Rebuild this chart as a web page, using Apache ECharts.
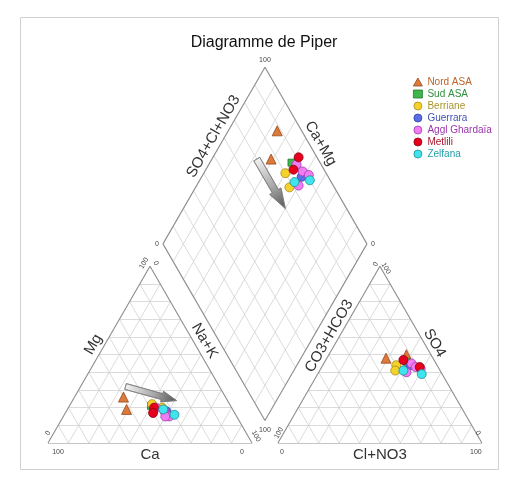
<!DOCTYPE html>
<html>
<head>
<meta charset="utf-8">
<script src="https://cdn.jsdelivr.net/npm/echarts@6/dist/echarts.min.js"></script>
<style>
  html, body { margin: 0; padding: 0; background: #fff; }
  #chart { width: 509px; height: 495px; }
</style>
</head>
<body>
<div id="chart"></div>
<script>
// Water samples, each row: [Ca, Mg, Na+K, CO3+HCO3, SO4, Cl+NO3] in meq %
const stations = ['Nord ASA', 'Sud ASA', 'Berriane', 'Guerrara', 'Aggl Ghardaïa', 'Metlili', 'Zelfana'];
const nordAsa     = [[50, 26, 24, 12, 50, 38], [52, 19, 29, 23, 48, 29]];
const sudAsa      = [[39, 21, 40, 14, 46, 40]];
const berriane    = [[38, 22, 40, 20, 44, 36], [34, 20, 46, 22, 41, 37]];
const guerrara    = [[33, 18, 49, 13, 44, 43]];
const agglGhardaia = [[37, 20, 43, 12, 45, 43], [34, 18, 48, 11, 43, 46], [33, 15, 52, 9, 42, 49], [35, 15, 50, 17, 40, 43]];
const metlili     = [[38, 20, 42, 9, 43, 48], [40, 17, 43, 15, 47, 38]];
const zelfana     = [[30, 16, 54, 10, 39, 51], [34, 19, 47, 18, 41, 41]];

// Evolution trends drawn as arrows
const trendDiamond = [[78, 70], [50, 70]];            // [Ca+Mg, SO4+Cl+NO3]
const trendCation  = [[46, 32, 22], [25, 24, 51]];    // [Ca, Mg, Na+K]

// Tick labels on the axes
const tickMin = '0';
const tickMax = '100';

// ---- Piper geometry (triangle side = 100 units) ----
const GAP = 12.7;
const R3 = Math.sqrt(3) / 2;
const XMAX = 200 + GAP;
const YMAX = (200 + GAP) * R3;
const SCALE = 2.04;

function norm3(a, b, c) { const t = a + b + c; return [a * 100 / t, b * 100 / t, c * 100 / t]; }
function cationXY(ca, mg, nak) { [ca, mg, nak] = norm3(ca, mg, nak); return [nak + mg / 2, mg * R3]; }
function anionXY(hco3, so4, cl) { [hco3, so4, cl] = norm3(hco3, so4, cl); return [100 + GAP + cl + so4 / 2, so4 * R3]; }
function diamondXY(camg, so4cl) { return [100 + GAP / 2 + (so4cl - camg) / 2, (GAP + so4cl + camg) * R3]; }

function samplePoints(rows) {
  const pts = [];
  rows.forEach(r => {
    const cat = norm3(r[0], r[1], r[2]);
    const an = norm3(r[3], r[4], r[5]);
    pts.push(cationXY(r[0], r[1], r[2]));
    pts.push(anionXY(r[3], r[4], r[5]));
    pts.push(diamondXY(cat[0] + cat[1], an[1] + an[2]));
  });
  return pts;
}

// ---- grid and outline segments ----
const gridSegs = [], frameSegs = [];
for (let k = 10; k < 100; k += 10) {
  // cation triangle
  gridSegs.push([cationXY(100 - k, k, 0), cationXY(0, k, 100 - k)]);
  gridSegs.push([cationXY(100 - k, 0, k), cationXY(0, 100 - k, k)]);
  gridSegs.push([cationXY(k, 0, 100 - k), cationXY(k, 100 - k, 0)]);
  // anion triangle
  gridSegs.push([anionXY(100 - k, k, 0), anionXY(0, k, 100 - k)]);
  gridSegs.push([anionXY(100 - k, 0, k), anionXY(0, 100 - k, k)]);
  gridSegs.push([anionXY(k, 0, 100 - k), anionXY(k, 100 - k, 0)]);
  // diamond
  gridSegs.push([diamondXY(k, 0), diamondXY(k, 100)]);
  gridSegs.push([diamondXY(0, k), diamondXY(100, k)]);
}
const Lbl = cationXY(100, 0, 0), Lbr = cationXY(0, 0, 100), Ltop = cationXY(0, 100, 0);
const Rbl = anionXY(100, 0, 0), Rbr = anionXY(0, 0, 100), Rtop = anionXY(0, 100, 0);
const Dbot = diamondXY(0, 0), Dleft = diamondXY(100, 0), Dright = diamondXY(0, 100), Dtop = diamondXY(100, 100);
[[Lbl, Lbr], [Lbr, Ltop], [Ltop, Lbl],
 [Rbl, Rbr], [Rbr, Rtop], [Rtop, Rbl],
 [Dbot, Dleft], [Dleft, Dtop], [Dtop, Dright], [Dright, Dbot]].forEach(s => frameSegs.push(s));

const arrows = [
  { from: diamondXY(trendDiamond[0][0], trendDiamond[0][1]), to: diamondXY(trendDiamond[1][0], trendDiamond[1][1]), shaft: 7, head: 13, headLen: 20 },
  { from: cationXY(...trendCation[0]), to: cationXY(...trendCation[1]), shaft: 6, head: 11, headLen: 15 }
];

const styles = [
  { symbol: 'triangle', size: 10, fill: '#dc7a3c', edge: '#98481c', text: '#b8642a' },
  { symbol: 'rect', size: 7, fill: '#3fb54c', edge: '#1f7a30', text: '#2f8f3c' },
  { symbol: 'circle', size: 9, fill: '#f4d22a', edge: '#a88c18', text: '#a89630' },
  { symbol: 'circle', size: 9, fill: '#5a6fe6', edge: '#2e3ea0', text: '#4252b4' },
  { symbol: 'circle', size: 9, fill: '#f27cf2', edge: '#a23cb2', text: '#9c34aa' },
  { symbol: 'circle', size: 9, fill: '#e6001e', edge: '#8e0012', text: '#a8142a' },
  { symbol: 'circle', size: 9, fill: '#40e4ec', edge: '#1e8e9c', text: '#24a0aa' }
];
const stationRows = [nordAsa, sudAsa, berriane, guerrara, agglGhardaia, metlili, zelfana];

const chart = echarts.init(document.getElementById('chart'), null, { renderer: 'canvas' });

const FONT = '"Liberation Sans", Arial, sans-serif';

const series = [
  {
    type: 'lines', coordinateSystem: 'cartesian2d', polyline: false, silent: true, z: 1,
    lineStyle: { color: '#d2d2d2', width: 0.8, opacity: 1 },
    data: gridSegs.map(s => ({ coords: s }))
  },
  {
    type: 'lines', coordinateSystem: 'cartesian2d', polyline: false, silent: true, z: 2,
    lineStyle: { color: '#8c8c8c', width: 1.1, opacity: 1 },
    data: frameSegs.map(s => ({ coords: s }))
  },
  {
    type: 'custom', silent: true, z: 3,
    data: arrows.map(a => [a.from[0], a.from[1], a.to[0], a.to[1], a.shaft, a.head, a.headLen]),
    encode: { x: [0, 2], y: [1, 3] },
    renderItem: function (params, api) {
      const p1 = api.coord([api.value(0), api.value(1)]);
      const p2 = api.coord([api.value(2), api.value(3)]);
      const sw = api.value(4) / 2, hw = api.value(5) / 2, hl = api.value(6);
      const dx = p2[0] - p1[0], dy = p2[1] - p1[1];
      const len = Math.sqrt(dx * dx + dy * dy);
      const ux = dx / len, uy = dy / len, nx = -uy, ny = ux;
      const bx = p2[0] - ux * hl, by = p2[1] - uy * hl;
      const pts = [
        [p1[0] + nx * sw, p1[1] + ny * sw],
        [bx + nx * sw, by + ny * sw],
        [bx + nx * hw, by + ny * hw],
        [p2[0], p2[1]],
        [bx - nx * hw, by - ny * hw],
        [bx - nx * sw, by - ny * sw],
        [p1[0] - nx * sw, p1[1] - ny * sw]
      ];
      return {
        type: 'polygon',
        shape: { points: pts },
        style: {
          fill: new echarts.graphic.LinearGradient(p1[0], p1[1], p2[0], p2[1], [
            { offset: 0, color: '#f2f2f2' },
            { offset: 0.55, color: '#a8a8a8' },
            { offset: 1, color: '#555555' }
          ], true),
          stroke: '#7a7a7a',
          lineWidth: 0.7
        }
      };
    }
  }
];

stations.forEach((name, i) => {
  const st = styles[i];
  series.push({
    name: name,
    type: 'scatter',
    z: 10 + i,
    symbol: st.symbol,
    symbolSize: st.size,
    itemStyle: { color: st.fill, borderColor: st.edge, borderWidth: 0.8, opacity: 1 },
    emphasis: { disabled: true },
    data: samplePoints(stationRows[i])
  });
});

chart.setOption({
  animation: false,
  backgroundColor: '#ffffff',
  grid: { left: 48, bottom: 495 - 443, width: XMAX * SCALE, height: YMAX * SCALE, containLabel: false },
  xAxis: { type: 'value', min: 0, max: XMAX, show: false },
  yAxis: { type: 'value', min: 0, max: YMAX, show: false },
  legend: {
    orient: 'vertical', left: 408, top: 71,
    itemWidth: 9, itemHeight: 8, itemGap: 0,
    selectedMode: false,
    textStyle: { fontSize: 10, lineHeight: 12, fontFamily: FONT, padding: [0, 0, 0, 0] },
    data: stations.map((n, i) => ({
      name: n,
      itemStyle: { color: styles[i].fill, borderColor: styles[i].edge, borderWidth: 0.8 },
      textStyle: { color: styles[i].text }
    }))
  },
  series: series
});

// ---- text: title, axis names and tick labels ----
function px(p) { return chart.convertToPixel({ gridIndex: 0 }, p); }
function along(a, b, t, off) {
  // point at fraction t from a to b, shifted off pixels along the outward normal (left of a->b)
  const pa = px(a), pb = px(b);
  const dx = pb[0] - pa[0], dy = pb[1] - pa[1];
  const len = Math.sqrt(dx * dx + dy * dy);
  return [pa[0] + dx * t + (dy / len) * off, pa[1] + dy * t - (dx / len) * off];
}
const texts = [];
function txt(pos, str, size, rot, color) {
  texts.push({
    type: 'text', x: pos[0], y: pos[1], rotation: rot || 0, silent: true, z: 50,
    style: { text: str, fill: color || '#333', font: size + 'px ' + FONT, align: 'center', verticalAlign: 'middle' }
  });
}
function at(p, dx, dy) { const q = px(p); return [q[0] + dx, q[1] + dy]; }

const A60 = Math.PI / 3;
txt([264, 43], 'Diagramme de Piper', 16, 0, '#111');

// axis names
txt(along(Dleft, Dtop, 0.58, 10), 'SO4+Cl+NO3', 15, A60);
txt(along(Dtop, Dright, 0.46, 10), 'Ca+Mg', 15, -A60);
txt(along(Lbl, Ltop, 0.53, 10), 'Mg', 15, A60);
txt(along(Ltop, Lbr, 0.45, 10), 'Na+K', 15, -A60);
txt(at([50, 0], 0, 12), 'Ca', 15, 0);
txt(along(Rbl, Rtop, 0.58, 9), 'CO3+HCO3', 15, A60);
txt(along(Rtop, Rbr, 0.46, 9), 'SO4', 15, -A60);
txt(at([150 + GAP, 0], 0, 12), 'Cl+NO3', 15, 0);

// tick labels
const TK = 7, TC = '#444';
txt(at(Dtop, 0, -7), tickMax, TK, 0, TC);
txt(at(Dleft, -6, 0), tickMin, TK, 0, TC);
txt(at(Dright, 6, 0), tickMin, TK, 0, TC);
txt(at(Dbot, 0, 9), tickMax, TK, 0, TC);

txt(at(Lbl, 10, 9), tickMax, TK, 0, TC);
txt(at(Lbr, -10, 9), tickMin, TK, 0, TC);
txt(at(Lbl, 0, -10), tickMin, TK, A60, TC);
txt(at(Ltop, -6, -3), tickMax, TK, A60, TC);
txt(at(Ltop, 6, -3), tickMin, TK, -A60, TC);
txt(at(Lbr, 4, -7), tickMax, TK, -A60, TC);

txt(at(Rbl, 4, 9), tickMin, TK, 0, TC);
txt(at(Rbr, -6, 9), tickMax, TK, 0, TC);
txt(at(Rbl, 1, -10), tickMax, TK, A60, TC);
txt(at(Rtop, -4, -2), tickMin, TK, A60, TC);
txt(at(Rtop, 6, 2), tickMax, TK, -A60, TC);
txt(at(Rbr, -4, -10), tickMin, TK, -A60, TC);

texts.push({
  type: 'rect', silent: true, z: 0,
  shape: { x: 20.5, y: 17.5, width: 478, height: 452 },
  style: { fill: 'none', stroke: '#d0d0d0', lineWidth: 1 }
});

chart.setOption({ graphic: texts });
</script>
</body>
</html>
